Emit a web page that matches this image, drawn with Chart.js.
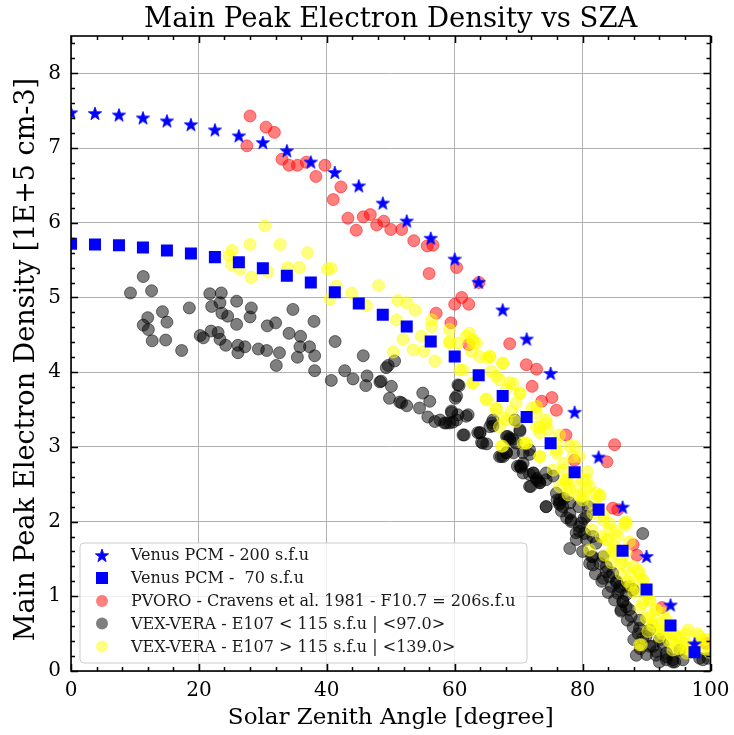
<!DOCTYPE html>
<html><head><meta charset="utf-8">
<script src="https://cdn.jsdelivr.net/npm/chart.js@4/dist/chart.umd.min.js"></script>
<style>html,body{margin:0;padding:0;background:#fff}#wrap{width:734px;height:735px}</style>
</head><body><div id="wrap"><canvas id="c" width="734" height="735"></canvas></div>
<script>
const chartTitle = "Main Peak Electron Density vs SZA";
const xTitle = "Solar Zenith Angle [degree]";
const yTitle = "Main Peak Electron Density [1E+5 cm-3]";
const xTickValues = [0, 20, 40, 60, 80, 100];
const yTickValues = [0, 1, 2, 3, 4, 5, 6, 7, 8];
const legendLabels = [
  "Venus PCM - 200 s.f.u",
  "Venus PCM -  70 s.f.u",
  "PVORO - Cravens et al. 1981 - F10.7 = 206s.f.u",
  "VEX-VERA - E107 < 115 s.f.u | <97.0>",
  "VEX-VERA - E107 > 115 s.f.u | <139.0>"
];

const pcmSza = [0, 3.75, 7.5, 11.25, 15, 18.75, 22.5, 26.25, 30, 33.75, 37.5, 41.25, 45, 48.75, 52.5, 56.25, 60, 63.75, 67.5, 71.25, 75, 78.75, 82.5, 86.25, 90, 93.75, 97.5];
const pcm200 = [7.48, 7.47, 7.45, 7.41, 7.37, 7.32, 7.25, 7.17, 7.08, 6.97, 6.82, 6.68, 6.50, 6.27, 6.03, 5.80, 5.52, 5.21, 4.84, 4.45, 3.99, 3.47, 2.87, 2.20, 1.54, 0.89, 0.37];
const pcm70 = [5.72, 5.71, 5.70, 5.67, 5.63, 5.59, 5.54, 5.47, 5.39, 5.29, 5.20, 5.07, 4.92, 4.77, 4.61, 4.41, 4.21, 3.96, 3.68, 3.40, 3.05, 2.66, 2.16, 1.61, 1.09, 0.61, 0.25];

const pvoroSza = [28.0, 27.5, 30.5, 31.8, 33.0, 34.1, 35.4, 36.8, 38.3, 39.7, 41.0, 42.2, 43.3, 44.6, 45.7, 46.8, 47.8, 48.9, 50.0, 51.7, 53.6, 55.7, 56.6, 56.0, 60.3, 63.8, 61.1, 60.0, 62.2, 57.1, 59.4, 62.2, 68.6, 71.2, 72.8, 72.1, 73.6, 75.2, 75.9, 77.4, 78.7, 83.8, 85.0, 84.7, 85.5, 87.9, 88.5, 92.4, 99.3];
const pvoroNe = [7.43, 7.03, 7.28, 7.21, 6.85, 6.77, 6.77, 6.81, 6.62, 6.77, 6.31, 6.48, 6.06, 5.90, 6.08, 6.11, 5.97, 6.02, 5.91, 5.91, 5.76, 5.69, 5.70, 5.32, 5.40, 5.20, 5.00, 4.91, 4.91, 4.79, 4.66, 4.37, 4.38, 4.10, 4.04, 3.81, 3.61, 3.66, 3.49, 3.16, 2.82, 2.80, 3.03, 2.18, 2.16, 1.69, 1.55, 0.85, 0.37];

const lowSza = [11.3, 9.3, 12.6, 14.3, 12.0, 11.3, 15.0, 12.1, 12.7, 14.8, 17.3, 18.5, 21.7, 23.5, 25.9, 23.3, 22.0, 28.2, 23.6, 24.5, 28.0, 25.9, 20.2, 20.7, 21.9, 23.0, 23.3, 24.2, 26.1, 27.2, 26.1, 29.3, 30.6, 32.6, 32.1, 30.7, 32.0, 34.7, 38.0, 34.1, 35.9, 35.8, 37.3, 38.1, 35.4, 38.1, 41.3, 42.8, 40.7, 44.1,
  45.7, 46.3, 46.1, 48.3, 49.3, 49.6, 50.6, 48.5, 50.1, 49.8, 51.4, 52.5, 51.7, 55.0, 56.1, 54.5, 55.8, 56.9, 58.7, 59.2, 59.7, 59.5, 60.5, 62.1, 60.1, 60.7, 61.5, 63.6, 64.0, 64.2, 65.0, 65.8, 66.0, 68.3, 70.2, 69.1, 67.0, 68.1, 68.6, 69.4, 70.4, 71.7, 72.3, 73.1, 74.3, 75.4,
  67.6, 70.7, 70.4, 71.7, 72.8, 73.3, 71.9, 74.3, 76.4, 76.7, 78.0, 78.2, 78.0, 79.8, 79.5, 80.3, 80.6, 81.4, 82.1, 81.6, 82.7, 83.7, 84.2, 85.3, 85.5, 86.3, 86.0, 87.3, 88.9, 88.9, 89.4, 89.9, 88.4, 91.5, 93.1, 94.1, 95.2, 98.3, 99.6, 91.0, 92.6, 92.0, 90.5, 87.9, 87.1, 86.8, 85.8, 84.5, 83.2, 80.9, 79.4, 80.2, 69.8, 69.2, 76.0, 77.1, 93.1, 95.7, 98.8, 94.4];
const lowNe = [5.28, 5.06, 5.09, 4.81, 4.73, 4.63, 4.67, 4.57, 4.42, 4.43, 4.29, 4.86, 5.05, 5.06, 4.95, 4.93, 4.88, 4.86, 4.79, 4.75, 4.74, 4.64, 4.49, 4.46, 4.55, 4.53, 4.44, 4.36, 4.36, 4.34, 4.26, 4.31, 4.29, 4.26, 4.09, 4.62, 4.66, 4.84, 4.68, 4.52, 4.48, 4.34, 4.34, 4.22, 4.20, 4.02, 4.41, 4.02, 3.89, 3.91,
  4.22, 3.95, 3.82, 3.87, 4.06, 4.09, 4.15, 3.88, 3.81, 3.65, 3.60, 3.55, 3.59, 3.72, 3.61, 3.52, 3.40, 3.34, 3.32, 3.32, 3.33, 3.46, 3.43, 3.43, 3.65, 3.82, 3.16, 3.19, 3.19, 3.06, 3.04, 3.32, 3.28, 3.14, 3.21, 3.10, 2.87, 2.92, 3.12, 3.36, 2.74, 2.90, 2.65, 2.54, 2.65, 2.61,
  2.87, 2.78, 2.72, 2.63, 2.58, 2.52, 2.47, 2.20, 2.23, 2.14, 2.11, 2.00, 1.64, 1.98, 1.87, 1.84, 1.76, 1.53, 1.71, 1.42, 1.44, 1.33, 1.26, 1.20, 1.04, 0.93, 0.82, 0.82, 0.68, 0.57, 1.84, 0.46, 0.21, 0.21, 0.24, 0.12, 0.28, 0.17, 0.17, 0.33, 0.35, 0.42, 0.55, 1.09, 1.13, 1.02, 1.13, 1.13, 1.24, 2.20, 2.20, 2.04, 2.74, 2.92, 2.29, 2.31, 0.15, 0.15, 0.15, 0.12];
const lowBandSza = [76.9, 78.2, 79.5, 79.0, 81.6, 81.1, 83.2, 83.7, 84.7, 85.3, 85.8, 86.3, 86.8, 87.6, 87.9, 88.7, 89.4, 90.5, 91.5, 93.1, 94.1, 81.6, 80.6, 76.4,
  60.5, 60.3, 59.5, 60.3, 58.4, 61.8, 61.3, 63.9, 64.4, 66.0, 65.5, 68.1, 68.6, 70.2, 69.6, 67.3, 68.1, 70.7, 71.7, 70.2, 70.7, 72.3, 72.8, 73.3, 71.7, 74.3, 75.9, 76.4, 74.3, 78.0, 57.7,
  82.0, 83.0, 84.0, 85.0, 86.0, 87.0, 88.0, 89.0, 90.0, 92.0, 80.0, 79.0, 77.5];
const lowBandNe = [2.20, 2.02, 1.93, 1.76, 1.53, 1.44, 1.53, 1.40, 1.31, 1.18, 1.09, 0.93, 0.86, 0.73, 0.59, 0.50, 0.44, 0.33, 0.26, 0.19, 0.15, 1.80, 2.07, 2.25,
  3.83, 3.68, 3.48, 3.36, 3.32, 3.41, 3.16, 3.19, 3.05, 3.36, 3.27, 3.14, 3.10, 3.23, 3.05, 2.87, 2.92, 2.92, 2.96, 2.74, 2.65, 2.65, 2.56, 2.52, 2.47, 2.56, 2.38, 2.29, 2.20, 2.25, 3.36,
  1.30, 1.20, 1.05, 0.95, 0.80, 0.68, 0.42, 0.30, 0.22, 0.12, 1.60, 1.85, 2.05];

const highSza = [30.3, 28.0, 25.2, 32.7, 37.0, 24.7, 25.1, 26.4, 28.2, 30.8, 33.9, 35.7, 40.1, 40.7, 41.5, 43.9, 40.5, 46.2, 48.1, 51.1, 52.5, 53.8, 50.9, 51.9, 50.4, 53.5, 55.2, 54.8, 56.9, 56.4, 56.4, 59.2, 59.2, 60.5, 62.3, 62.8, 63.4, 62.6, 63.9, 65.5, 67.5, 61.3, 62.8, 65.7, 65.0, 67.0, 69.1, 70.2, 64.9, 66.5, 67.5, 69.6, 72.1, 74.3, 73.3, 74.6, 76.4, 67.5, 71.2, 78.8, 75.9, 68.1, 68.9, 72.8, 72.8, 73.3, 75.9, 77.0, 77.5, 78.0, 80.0, 81.1, 79.5, 82.7, 81.6, 83.2, 84.2, 86.6, 85.5, 85.0, 86.8, 87.9, 88.9, 89.4, 89.9, 90.5, 91.5, 92.6, 93.1, 94.2, 95.2, 96.2, 98.3, 99.3, 81.1, 89.2, 90.2, 81.6, 80.7, 79.5, 81.4, 82.9, 82.1, 88.9, 70.7, 83.5, 84.5, 86.0, 87.0, 88.0, 91.0, 92.0, 93.5, 95.0, 97.0, 99.8, 96.5, 98.0];
const highNe = [5.96, 5.71, 5.63, 5.71, 5.60, 5.56, 5.44, 5.38, 5.27, 5.34, 5.40, 5.40, 5.38, 5.39, 5.15, 5.06, 4.98, 4.89, 5.16, 4.96, 4.93, 4.83, 4.70, 4.44, 4.27, 4.30, 4.28, 4.48, 4.15, 4.70, 4.61, 4.57, 4.41, 4.39, 4.52, 4.44, 4.39, 4.28, 4.21, 4.21, 4.12, 4.03, 3.85, 4.01, 4.19, 3.90, 3.85, 3.72, 3.64, 3.52, 3.39, 3.34, 3.52, 3.36, 3.27, 3.23, 3.16, 3.01, 3.05, 3.01, 3.05, 3.77, 3.48, 3.54, 3.27, 2.87, 2.92, 2.78, 2.56, 2.43, 2.56, 2.47, 2.34, 2.34, 2.11, 2.02, 1.89, 1.98, 1.80, 1.67, 1.58, 1.40, 1.31, 1.22, 1.04, 0.95, 0.82, 0.77, 0.68, 0.50, 0.46, 0.37, 0.37, 0.42, 1.62, 0.35, 0.53, 2.25, 2.67, 2.87, 1.89, 1.80, 2.38, 0.35, 3.05, 1.55, 1.45, 1.30, 1.20, 1.05, 0.65, 0.55, 0.40, 0.30, 0.25, 0.25, 0.55, 0.50];
const highBandSza = [77.4, 79.0, 80.6, 80.0, 82.7, 83.2, 84.2, 85.3, 83.7, 84.7, 86.8, 87.3, 85.8, 86.8, 87.6, 88.7, 89.4, 88.4, 89.4, 90.5, 91.5, 90.5, 92.0, 93.1, 92.0, 94.6, 95.7, 96.2, 98.3, 99.3, 94.1, 96.2, 86.8, 77.7, 76.4,
  59.2, 62.9, 61.8, 60.8, 62.9, 65.5, 67.5, 66.5, 65.0, 68.6, 70.2, 69.6, 66.5, 68.1, 67.0, 72.8, 74.3, 73.3, 71.2, 73.3, 75.9, 78.0, 78.5, 76.9, 77.4, 80.6, 80.0, 67.3, 75.4,
  84.0, 85.0, 86.0, 87.5, 89.0, 90.0, 91.0, 92.5, 94.0, 96.0, 97.5, 99.0];
const highBandNe = [2.56, 2.47, 2.43, 2.29, 2.36, 2.09, 1.98, 1.87, 1.76, 1.62, 1.96, 1.73, 1.53, 1.40, 1.26, 1.35, 1.22, 1.09, 0.91, 0.95, 0.82, 0.73, 0.64, 0.55, 0.46, 0.46, 0.37, 0.50, 0.46, 0.42, 0.28, 0.24, 2.00, 2.36, 2.47,
  4.39, 4.39, 4.48, 4.03, 3.86, 4.21, 4.12, 3.95, 3.63, 3.86, 3.72, 3.59, 3.50, 3.36, 3.27, 3.45, 3.32, 3.19, 3.05, 2.87, 2.96, 3.01, 2.87, 2.69, 2.52, 2.56, 2.34, 3.01, 2.69,
  1.75, 1.60, 1.45, 1.15, 0.85, 0.70, 0.60, 0.50, 0.40, 0.30, 0.30, 0.30];

function pts(xs, ys) { return xs.map((x, i) => ({ x: x, y: ys[i] })); }

function makeStar(R, color) {
  const s = Math.ceil(2 * R + 2);
  const c = document.createElement('canvas');
  c.width = s; c.height = s;
  const g = c.getContext('2d');
  g.beginPath();
  for (let i = 0; i < 10; i++) {
    const r = (i % 2) ? R * 0.40 : R;
    const a = -Math.PI / 2 + i * Math.PI / 5;
    const px = s / 2 + r * Math.cos(a), py = s / 2 + 1 + r * Math.sin(a);
    if (i === 0) g.moveTo(px, py); else g.lineTo(px, py);
  }
  g.closePath();
  g.fillStyle = color; g.fill();
  g.lineWidth = 0.8; g.strokeStyle = color; g.stroke();
  return c;
}
const starImg = makeStar(7, '#0000ff');

const SERIF = "'DejaVu Serif', serif";

const decorPlugin = {
  id: 'decor',
  afterDatasetsDraw(chart) {
    const ctx = chart.ctx, a = chart.chartArea;
    const xs = chart.scales.x, ys = chart.scales.y;
    ctx.save();
    ctx.strokeStyle = '#000'; ctx.lineWidth = 1.5;
    for (let k = 0; k <= 25; k++) {
      const v = k * 4;
      const px = Math.round(xs.getPixelForValue(v)) + 0.5;
      const L = (k % 5 === 0) ? 7 : 4;
      ctx.beginPath();
      ctx.moveTo(px, a.bottom); ctx.lineTo(px, a.bottom - L);
      ctx.moveTo(px, a.top); ctx.lineTo(px, a.top + L);
      ctx.stroke();
    }
    for (let k = 0; k <= 42; k++) {
      const v = k * 0.2;
      const py = Math.round(ys.getPixelForValue(v)) + 0.5;
      const L = (k % 5 === 0) ? 7 : 4;
      ctx.beginPath();
      ctx.moveTo(a.left, py); ctx.lineTo(a.left + L, py);
      ctx.moveTo(a.right, py); ctx.lineTo(a.right - L, py);
      ctx.stroke();
    }
    ctx.lineWidth = 1.6;
    ctx.strokeRect(a.left, a.top, a.right - a.left, a.bottom - a.top);

    // legend
    const lx = 80, ly = 543, lw = 447, lh = 120;
    ctx.beginPath();
    const r = 4;
    ctx.moveTo(lx + r, ly); ctx.lineTo(lx + lw - r, ly); ctx.quadraticCurveTo(lx + lw, ly, lx + lw, ly + r);
    ctx.lineTo(lx + lw, ly + lh - r); ctx.quadraticCurveTo(lx + lw, ly + lh, lx + lw - r, ly + lh);
    ctx.lineTo(lx + r, ly + lh); ctx.quadraticCurveTo(lx, ly + lh, lx, ly + lh - r);
    ctx.lineTo(lx, ly + r); ctx.quadraticCurveTo(lx, ly, lx + r, ly);
    ctx.closePath();
    ctx.fillStyle = 'rgba(255,255,255,0.8)'; ctx.fill();
    ctx.strokeStyle = '#cccccc'; ctx.lineWidth = 1; ctx.stroke();
    const rows = [555, 578, 601, 623.5, 646.5];
    const mx = 102;
    ctx.font = "16px " + SERIF;
    ctx.textBaseline = 'middle'; ctx.textAlign = 'left';
    legendLabels.forEach((lab, i) => {
      const y = rows[i];
      if (i === 0) {
        ctx.drawImage(starImg, mx - starImg.width / 2, y - starImg.height / 2);
      } else if (i === 1) {
        ctx.fillStyle = '#0000ff'; ctx.fillRect(mx - 6, y - 6, 12, 12);
      } else {
        const col = ['rgba(255,0,0,0.5)', 'rgba(0,0,0,0.5)', 'rgba(255,255,0,0.5)'][i - 2];
        ctx.beginPath(); ctx.arc(mx, y, 6, 0, Math.PI * 2); ctx.fillStyle = col; ctx.fill();
      }
      ctx.fillStyle = '#1a1a1a';
      ctx.fillText(lab, 131, y + 1);
    });
    ctx.restore();
  },
  afterDraw(chart) {
    const ctx = chart.ctx, a = chart.chartArea;
    const cx = (a.left + a.right) / 2, cy = (a.top + a.bottom) / 2;
    ctx.save();
    ctx.fillStyle = '#000';
    ctx.textAlign = 'center'; ctx.textBaseline = 'middle';
    ctx.font = "27.5px " + SERIF;
    ctx.fillText(chartTitle, cx, 20);
    ctx.font = "23px " + SERIF;
    ctx.fillText(xTitle, cx, 718);
    ctx.translate(27, cy + 6);
    ctx.rotate(-Math.PI / 2);
    ctx.font = "27px " + SERIF;
    ctx.fillText(yTitle, 0, 0);
    ctx.restore();
  }
};

const circle = (col) => ({ pointStyle: 'circle', pointRadius: 6, backgroundColor: col, borderColor: col, borderWidth: 1, clip: 0 });

new Chart(document.getElementById('c'), {
  type: 'scatter',
  data: {
    datasets: [
      { label: legendLabels[0], data: pts(pcmSza, pcm200), pointStyle: starImg, order: 0, clip: 0 },
      { label: legendLabels[1], data: pts(pcmSza, pcm70), pointStyle: 'rect', pointRadius: 8.5, backgroundColor: '#0000ff', borderColor: '#0000ff', borderWidth: 0, order: 1, clip: 0 },
      Object.assign({ label: legendLabels[2], data: pts(pvoroSza, pvoroNe), order: 4 }, circle('rgba(255,0,0,0.5)')),
      Object.assign({ label: legendLabels[3], data: pts(lowSza, lowNe).concat(pts(lowBandSza, lowBandNe)), order: 3 }, circle('rgba(0,0,0,0.5)')),
      Object.assign({ label: legendLabels[4], data: pts(highSza, highNe).concat(pts(highBandSza, highBandNe)), order: 2 }, circle('rgba(255,255,0,0.5)'))
    ]
  },
  options: {
    responsive: false,
    devicePixelRatio: 1,
    animation: false,
    events: [],
    layout: { padding: { left: 0, right: 23.5, top: 36, bottom: 0 } },
    plugins: { legend: { display: false }, tooltip: { enabled: false }, title: { display: false } },
    scales: {
      x: {
        type: 'linear', min: 0, max: 100,
        afterBuildTicks: (s) => { s.ticks = xTickValues.map(v => ({ value: v })); },
        afterFit: (s) => { s.height = 64; s.paddingLeft = 0; s.paddingRight = 0; },
        grid: { color: '#b0b0b0', lineWidth: 1, drawTicks: false },
        border: { display: false },
        ticks: { font: { family: SERIF, size: 20 }, color: '#000', padding: 8, maxRotation: 0 }
      },
      y: {
        type: 'linear', min: 0, max: 8.5,
        afterBuildTicks: (s) => { s.ticks = yTickValues.map(v => ({ value: v })); },
        afterFit: (s) => { s.width = 71; s.paddingTop = 0; s.paddingBottom = 0; },
        grid: { color: '#b0b0b0', lineWidth: 1, drawTicks: false },
        border: { display: false },
        ticks: { font: { family: SERIF, size: 20 }, color: '#000', padding: 10 }
      }
    }
  },
  plugins: [decorPlugin]
});
</script>
</body></html>
